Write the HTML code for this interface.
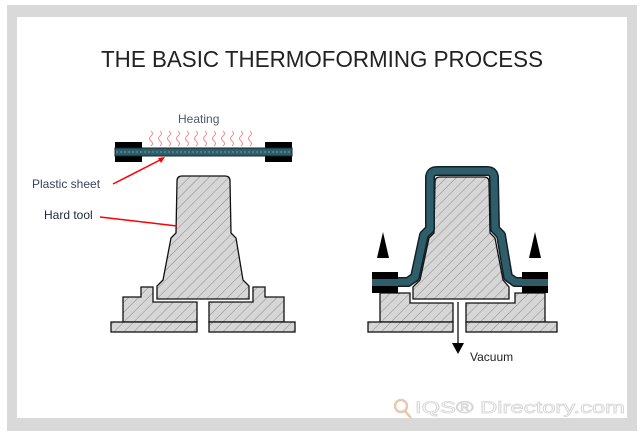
<!DOCTYPE html>
<html><head><meta charset="utf-8"><style>
html,body{margin:0;padding:0;background:#fff;}
svg{display:block;}
text{font-family:"Liberation Sans",Arial,sans-serif;}
</style></head><body>
<svg width="644" height="441" viewBox="0 0 644 441" xmlns="http://www.w3.org/2000/svg">
<defs>
<pattern id="h" patternUnits="userSpaceOnUse" width="7" height="7" patternTransform="rotate(45)">
<rect width="7" height="7" fill="#d6d6d6"/>
<line x1="0" y1="0" x2="0" y2="7" stroke="#8a8a8a" stroke-width="1"/>
</pattern>
<path id="wave" d="M0,0 q3,2.5 0,5 q-3,2.5 0,5 q3,2.5 0,5" fill="none" stroke="#f08a8a" stroke-width="1"/>
</defs>
<rect x="7" y="5" width="630" height="426" fill="#d9d9d9"/>
<rect x="17" y="17" width="610" height="401" fill="#fff"/>
<text x="101" y="67" font-size="23" fill="#222" textLength="442" lengthAdjust="spacingAndGlyphs">THE BASIC THERMOFORMING PROCESS</text>

<!-- LEFT -->
<text x="178" y="123" font-size="12" fill="#505870">Heating</text>
<g>
<use href="#wave" x="151" y="131"/><use href="#wave" x="160" y="131"/><use href="#wave" x="169" y="131"/><use href="#wave" x="178" y="131"/><use href="#wave" x="187" y="131"/><use href="#wave" x="196" y="131"/><use href="#wave" x="205" y="131"/><use href="#wave" x="214" y="131"/><use href="#wave" x="223" y="131"/><use href="#wave" x="232" y="131"/><use href="#wave" x="241" y="131"/><use href="#wave" x="250" y="131"/>
</g>
<rect x="115" y="142" width="27" height="20" fill="#000"/>
<rect x="265" y="142" width="27" height="20" fill="#000"/>
<rect x="115" y="148" width="177" height="8" fill="#2f5e6a" stroke="#10262c" stroke-width="1"/>
<line x1="116" y1="152" x2="291" y2="152" stroke="#6d9aa4" stroke-width="1" stroke-dasharray="2,2"/>

<path d="M123,322 V297 H141 V287 H153 V302 H197 V322 Z" fill="url(#h)" stroke="#111" stroke-width="1.3"/>
<path d="M284,322 V297 H265 V287 H253 V302 H209 V322 Z" fill="url(#h)" stroke="#111" stroke-width="1.3"/>
<rect x="111" y="322" width="86" height="10" fill="url(#h)" stroke="#111" stroke-width="1.3"/>
<rect x="209" y="322" width="86" height="10" fill="url(#h)" stroke="#111" stroke-width="1.3"/>
<path d="M157,299 V286 L163,280 L171,238 L176,233 L177,181 Q177,176 182,176 H225 Q230,176 230,181 L231,233 L236,238 L243,280 L249,286 V299 Z" fill="url(#h)" stroke="#111" stroke-width="1.3"/>

<text x="32" y="188" font-size="12" fill="#3a4060">Plastic sheet</text>
<line x1="113" y1="184" x2="162" y2="159" stroke="#f00" stroke-width="1.5"/>
<path d="M165,157 l-7,1 l3,5 z" fill="#f00"/>
<text x="44" y="219" font-size="12" fill="#222840">Hard tool</text>
<line x1="100" y1="217" x2="177" y2="226" stroke="#f00" stroke-width="1.5"/>

<!-- RIGHT -->
<path d="M380,322 V293 H410 V303 H453 V322 Z" fill="url(#h)" stroke="#111" stroke-width="1.3"/>
<path d="M545,322 V293 H515 V303 H466 V322 Z" fill="url(#h)" stroke="#111" stroke-width="1.3"/>
<rect x="368" y="322" width="85" height="10" fill="url(#h)" stroke="#111" stroke-width="1.3"/>
<rect x="466" y="322" width="91" height="10" fill="url(#h)" stroke="#111" stroke-width="1.3"/>
<path d="M413,299 V287 L420,280 L429,238 L434,233 L435,182 Q435,177 440,177 H484 Q489,177 489,182 L490,233 L495,238 L503,280 L509,287 V299 Z" fill="url(#h)" stroke="#111" stroke-width="1.3"/>
<path d="M372,282 H408 L415,277 L424,235 L430,229 L430,178 Q430,171 437,171 H487 Q494,171 494,178 L495,229 L501,235 L508,277 L515,282 H548" fill="none" stroke="#0e2328" stroke-width="10" stroke-linejoin="round"/>
<path d="M372,282 H408 L415,277 L424,235 L430,229 L430,178 Q430,171 437,171 H487 Q494,171 494,178 L495,229 L501,235 L508,277 L515,282 H548" fill="none" stroke="#2f5e6a" stroke-width="7" stroke-linejoin="round"/>
<rect x="372" y="272" width="26" height="21" fill="#000"/>
<rect x="522" y="272" width="26" height="21" fill="#000"/>
<rect x="372" y="279" width="26" height="7" fill="#2f5e6a"/>
<rect x="522" y="279" width="26" height="7" fill="#2f5e6a"/>
<path d="M383,232 L377,258 H389 Z" fill="#000"/>
<path d="M535,232 L529,258 H541 Z" fill="#000"/>
<line x1="458" y1="302" x2="458" y2="345" stroke="#111" stroke-width="1.3"/>
<path d="M452,343 H464 L458,354 Z" fill="#000"/>
<text x="470" y="361" font-size="12" fill="#222">Vacuum</text>

<!-- watermark -->
<circle cx="401" cy="406" r="6" fill="none" stroke="#e8c9b0" stroke-width="2.5"/>
<line x1="405" y1="411" x2="411" y2="418" stroke="#e8c9b0" stroke-width="2.5"/>
<text x="415" y="413" font-size="17" fill="#fff" stroke="#d6d6d6" stroke-width="0.8" textLength="210" lengthAdjust="spacingAndGlyphs">IQS® Directory.com</text>
</svg>
</body></html>
